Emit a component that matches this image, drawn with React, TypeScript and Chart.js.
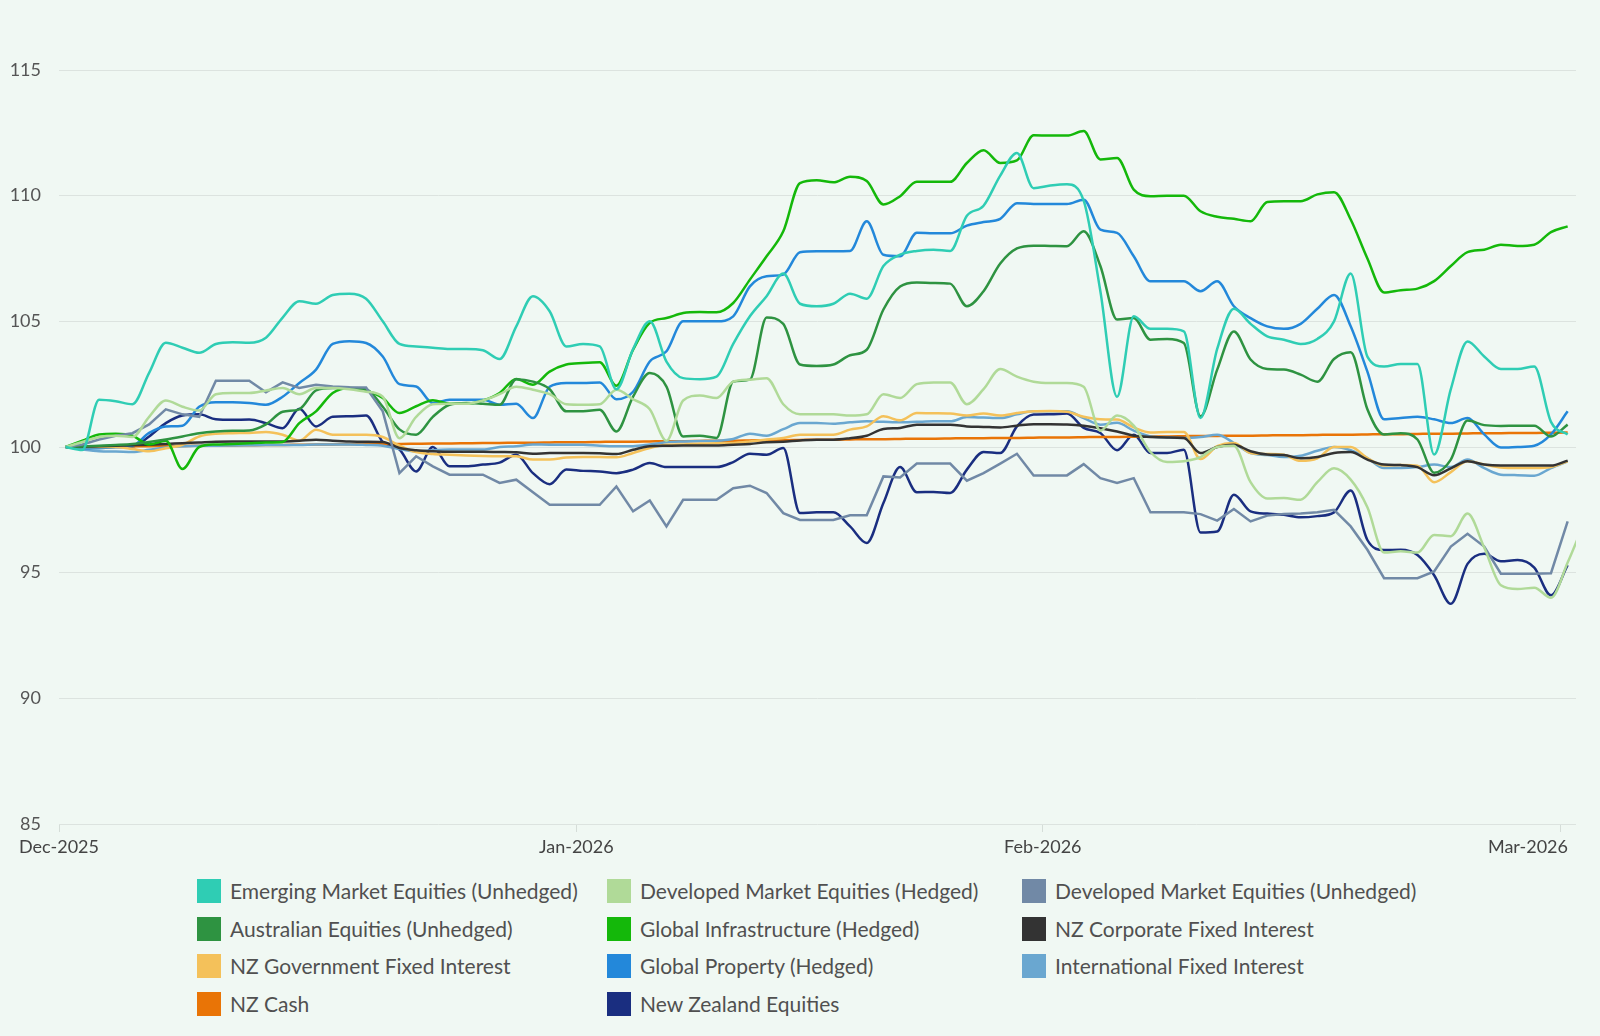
import React, { useEffect, useRef } from 'react';
import { Chart, registerables } from 'chart.js';

Chart.register(...registerables);

const BG = '#F0F8F3';

// x-axis tick positions (in data-index units) and their labels
const tickPositions = [-0.4, 30.6, 58.55, 89.55];
const tickLabels = ['Dec-2025', 'Jan-2026', 'Feb-2026', 'Mar-2026'];

const yMin = 85;
const yMax = 115;
const yStep = 5;

const seriesNames = [
  'Emerging Market Equities (Unhedged)',
  'Developed Market Equities (Hedged)',
  'Developed Market Equities (Unhedged)',
  'Australian Equities (Unhedged)',
  'Global Infrastructure (Hedged)',
  'NZ Corporate Fixed Interest',
  'NZ Government Fixed Interest',
  'Global Property (Hedged)',
  'International Fixed Interest',
  'NZ Cash',
  'New Zealand Equities',
];

const seriesColors = [
  '#2FCDB4',
  '#B0DA98',
  '#7189A6',
  '#2E9341',
  '#14B80A',
  '#333333',
  '#F4C15A',
  '#2388DA',
  '#6AA7D0',
  '#E97406',
  '#1A2E80',
];

const emergingUnhedged = [
  100, 99.88, 101.88, 101.82, 101.7, 102.95, 104.15, 103.95, 103.75, 104.1,
  104.17, 104.15, 104.35, 105.15, 105.8, 105.7, 106.05, 106.1, 105.9, 105.0,
  104.1, 104.0, 103.95, 103.9, 103.9, 103.85, 103.5, 104.8, 106.0, 105.4,
  104.0, 104.1, 104.0, 102.3, 103.9, 105.0, 103.4, 102.74, 102.7, 102.8,
  104.1, 105.2, 106.0, 106.9, 105.7, 105.6, 105.7, 106.1, 105.9, 107.2,
  107.65, 107.8, 107.85, 107.8, 109.2, 109.6, 110.8, 111.7, 110.3, 110.4,
  110.45, 109.8, 106.2, 102.0, 105.2, 104.7, 104.7, 104.6, 101.15, 103.9,
  105.5, 104.9, 104.4, 104.27, 104.1, 104.3, 105.0, 106.9, 103.6, 103.2,
  103.3, 103.3, 99.7, 102.3, 104.2, 103.6, 103.1, 103.1, 103.2, 101.0,
  100.5,
];

const developedHedged = [
  100, 100.2, 100.4, 100.45, 100.4, 101.2, 101.85, 101.6, 101.45, 102.1,
  102.15, 102.15, 102.25, 102.35, 102.1, 102.35, 102.35, 102.3, 102.2, 102.0,
  100.35, 101.2, 101.7, 101.72, 101.72, 101.85, 102.1, 102.4, 102.28, 102.1,
  101.7, 101.68, 101.7, 102.28, 101.9, 101.5, 100.25, 101.85, 102.05, 101.95,
  102.6, 102.68, 102.74, 101.7, 101.3, 101.3, 101.3, 101.25, 101.3, 102.1,
  101.95, 102.5, 102.57, 102.57, 101.7, 102.3, 103.1, 102.8, 102.6, 102.55,
  102.55, 102.4, 100.65, 101.25, 100.85, 99.8, 99.4, 99.43, 99.6, 100.0,
  100.05, 98.6, 97.95, 97.97, 97.9, 98.6, 99.15, 98.7, 97.6, 95.8,
  95.85, 95.8, 96.5, 96.45, 97.35, 96.0, 94.5, 94.35, 94.4, 94.0,
  95.4, 97.0,
];

const developedUnhedged = [
  100, 100.1, 100.3, 100.45, 100.55, 100.9, 101.5, 101.3, 101.2, 102.64,
  102.64, 102.64, 102.18, 102.57, 102.35, 102.48, 102.41, 102.38, 102.37, 101.42,
  98.96, 99.63, 99.23, 98.9, 98.9, 98.9, 98.57, 98.7, 98.2, 97.7,
  97.7, 97.7, 97.7, 98.43, 97.44, 97.87, 96.84, 97.9, 97.9, 97.9,
  98.36, 98.46, 98.17, 97.37, 97.1, 97.1, 97.1, 97.28, 97.28, 98.83,
  98.79, 99.34, 99.34, 99.34, 98.66, 98.96, 99.34, 99.73, 98.87, 98.87,
  98.87, 99.32, 98.76, 98.57, 98.76, 97.4, 97.4, 97.4, 97.33, 97.07,
  97.53, 97.04, 97.27, 97.33, 97.35, 97.4, 97.5, 96.84, 95.91, 94.78,
  94.78, 94.78, 95.05, 96.04, 96.55, 96.04, 94.96, 94.96, 94.96, 94.98,
  97.04,
];

const australianUnhedged = [
  100, 100.02, 100.05, 100.08, 100.12, 100.2, 100.3, 100.42, 100.55, 100.62,
  100.65, 100.66, 100.9, 101.4, 101.5, 102.25, 102.35, 102.35, 102.3, 101.6,
  100.7, 100.49, 101.2, 101.68, 101.75, 101.72, 101.68, 102.7, 102.6, 102.3,
  101.42, 101.42, 101.48, 100.62, 102.0, 102.94, 102.4, 100.42, 100.45, 100.36,
  102.6, 102.68, 105.15, 104.9, 103.28, 103.22, 103.28, 103.65, 103.87, 105.47,
  106.39, 106.55, 106.53, 106.5, 105.6, 106.2, 107.3, 107.9, 108.01, 108.0,
  107.99, 108.58, 107.2, 105.07, 105.13, 104.27, 104.3, 104.14, 101.22, 103.08,
  104.6, 103.48, 103.1, 103.08, 102.88, 102.6, 103.5, 103.77, 101.5, 100.5,
  100.55, 100.3, 98.98, 99.5, 101.05, 100.87, 100.84, 100.85, 100.85, 100.42,
  100.89,
];

const globalInfrastructure = [
  100, 100.25, 100.5, 100.53, 100.45, 100.1, 100.25, 99.12, 100.0, 100.1,
  100.12, 100.15, 100.18, 100.2, 100.95, 101.42, 102.15, 102.35, 102.25, 101.95,
  101.35, 101.62, 101.86, 101.72, 101.72, 101.85, 102.15, 102.71, 102.48, 103.0,
  103.28, 103.34, 103.37, 102.44, 103.87, 104.94, 105.13, 105.33, 105.37, 105.36,
  105.73, 106.66, 107.59, 108.58, 110.5, 110.61, 110.53, 110.75, 110.58, 109.65,
  109.98, 110.55, 110.55, 110.55, 111.3, 111.81, 111.3, 111.4, 112.4, 112.39,
  112.39, 112.57, 111.44, 111.5, 110.24, 109.98, 110.0, 110.0, 109.38, 109.16,
  109.08, 108.98, 109.75, 109.78, 109.78, 110.05, 110.14, 109.05, 107.5, 106.15,
  106.24, 106.3, 106.6, 107.2, 107.75, 107.85, 108.05, 108.0, 108.05, 108.55,
  108.78,
];

const nzCorporateFixed = [
  100, 100.01, 100.03, 100.05, 100.07, 100.09, 100.12, 100.15, 100.18, 100.21,
  100.22, 100.22, 100.22, 100.22, 100.25, 100.29, 100.25, 100.22, 100.21, 100.2,
  99.96, 99.87, 99.83, 99.81, 99.81, 99.81, 99.8, 99.79, 99.73, 99.76,
  99.76, 99.76, 99.75, 99.72, 99.89, 100.03, 100.05, 100.06, 100.06, 100.06,
  100.09, 100.12, 100.19, 100.21, 100.26, 100.29, 100.29, 100.35, 100.45, 100.72,
  100.76, 100.89, 100.89, 100.89, 100.82, 100.8, 100.78, 100.85, 100.91, 100.91,
  100.9, 100.85, 100.75, 100.62, 100.45, 100.4, 100.38, 100.36, 99.76, 100.0,
  100.09, 99.83, 99.7, 99.68, 99.55, 99.6, 99.76, 99.8, 99.5, 99.3,
  99.28, 99.2, 98.88, 99.15, 99.43, 99.3, 99.26, 99.26, 99.26, 99.26,
  99.46,
];

const nzGovernmentFixed = [
  100, 100.0, 100.0, 100.0, 99.92, 99.83, 99.95, 100.09, 100.42, 100.53,
  100.55, 100.56, 100.6, 100.49, 100.25, 100.69, 100.49, 100.49, 100.49, 100.4,
  100.05, 99.8, 99.72, 99.69, 99.66, 99.64, 99.63, 99.63, 99.5, 99.5,
  99.58, 99.6, 99.6, 99.59, 99.76, 99.96, 100.09, 100.1, 100.13, 100.15,
  100.16, 100.22, 100.3, 100.36, 100.49, 100.49, 100.49, 100.69, 100.82, 101.22,
  101.06, 101.35, 101.34, 101.33, 101.25, 101.33, 101.25, 101.35, 101.42, 101.43,
  101.4, 101.2, 101.1, 101.09, 100.78, 100.58, 100.6, 100.6, 99.52, 100.03,
  100.16, 99.76, 99.72, 99.69, 99.45, 99.55, 100.0, 100.0, 99.56, 99.26,
  99.28, 99.25, 98.6, 99.0, 99.43, 99.3, 99.18, 99.16, 99.16, 99.2,
  99.43,
];

const globalProperty = [
  100, 99.95, 99.95, 100.0, 100.05, 100.56, 100.82, 100.85, 101.6, 101.78,
  101.78, 101.75, 101.68, 102.0, 102.55, 103.08, 104.1, 104.21, 104.14, 103.6,
  102.5, 102.41, 101.75, 101.88, 101.88, 101.88, 101.68, 101.72, 101.15, 102.4,
  102.55, 102.55, 102.57, 101.9, 102.2, 103.4, 103.81, 105.0, 105.0, 105.0,
  105.2, 106.39, 106.79, 106.86, 107.75, 107.79, 107.79, 107.8, 108.98, 107.65,
  107.59, 108.52, 108.5, 108.5, 108.81, 108.95, 109.08, 109.7, 109.67, 109.67,
  109.67, 109.84, 108.65, 108.52, 107.59, 106.59, 106.59, 106.59, 106.2, 106.59,
  105.6, 105.13, 104.8, 104.7, 104.9, 105.5, 106.05, 104.8, 103.0, 101.1,
  101.15, 101.2, 101.1, 100.95, 101.15, 100.5, 99.98, 100.0, 100.05, 100.5,
  101.42,
];

const internationalFixed = [
  100, 99.9, 99.83, 99.82, 99.8, 99.89, 99.98, 100.03, 100.05, 100.05,
  100.06, 100.07, 100.08, 100.08, 100.08, 100.1, 100.1, 100.1, 100.08, 100.05,
  99.92, 99.83, 99.87, 99.9, 99.9, 99.9, 100.0, 100.03, 100.1, 100.09,
  100.09, 100.09, 100.05, 100.03, 100.03, 100.1, 100.19, 100.22, 100.24, 100.25,
  100.32, 100.53, 100.45, 100.71, 100.95, 100.95, 100.93, 100.98, 101.02, 101.0,
  100.98, 101.0, 101.02, 101.02, 101.19, 101.17, 101.15, 101.3, 101.42, 101.42,
  101.42, 101.15, 100.89, 100.96, 100.65, 100.42, 100.38, 100.36, 100.4, 100.49,
  100.16, 99.76, 99.68, 99.6, 99.65, 99.85, 100.0, 99.87, 99.56, 99.16,
  99.16, 99.2, 99.3, 99.2, 99.5, 99.16, 98.9, 98.88, 98.86, 99.16,
  99.43,
];

const nzCash = [
  100.0, 100.01, 100.01, 100.02, 100.03, 100.03, 100.04, 100.04, 100.05, 100.06,
  100.06, 100.07, 100.08, 100.08, 100.09, 100.1, 100.1, 100.11, 100.11, 100.12,
  100.12, 100.13, 100.14, 100.14, 100.15, 100.16, 100.16, 100.17, 100.17, 100.18,
  100.19, 100.19, 100.2, 100.21, 100.21, 100.22, 100.23, 100.23, 100.24, 100.25,
  100.25, 100.26, 100.27, 100.27, 100.28, 100.29, 100.29, 100.3, 100.31, 100.31,
  100.32, 100.33, 100.33, 100.34, 100.35, 100.35, 100.36, 100.36, 100.37, 100.38,
  100.38, 100.39, 100.4, 100.4, 100.41, 100.42, 100.42, 100.43, 100.44, 100.44,
  100.45, 100.45, 100.46, 100.47, 100.47, 100.48, 100.49, 100.49, 100.5, 100.51,
  100.51, 100.52, 100.53, 100.53, 100.54, 100.55, 100.55, 100.56, 100.56, 100.57,
  100.58,
];

const nzEquities = [
  100, 99.98, 99.98, 100.0, 100.02, 100.42, 100.95, 101.25, 101.3, 101.1,
  101.08, 101.09, 100.95, 100.75, 101.52, 100.82, 101.2, 101.22, 101.25, 100.2,
  99.9, 99.03, 100.0, 99.23, 99.23, 99.3, 99.38, 99.69, 98.96, 98.52,
  99.1, 99.05, 99.03, 98.96, 99.1, 99.36, 99.2, 99.2, 99.2, 99.2,
  99.4, 99.73, 99.69, 99.96, 97.37, 97.4, 97.4, 96.84, 96.18, 97.77,
  99.2, 98.2, 98.21, 98.17, 99.1, 99.8, 99.76, 100.82, 101.29, 101.3,
  101.33, 100.76, 100.56, 99.87, 100.49, 99.76, 99.76, 99.89, 96.6, 96.64,
  98.1, 97.44, 97.35, 97.3, 97.2, 97.25, 97.4, 98.27, 96.3, 95.9,
  95.91, 95.7, 94.9, 93.76, 95.35, 95.75, 95.45, 95.5, 95.2, 94.1,
  95.3,
];

const seriesValues = [
  emergingUnhedged,
  developedHedged,
  developedUnhedged,
  australianUnhedged,
  globalInfrastructure,
  nzCorporateFixed,
  nzGovernmentFixed,
  globalProperty,
  internationalFixed,
  nzCash,
  nzEquities,
];

// series drawn with straight segments
const straightSeries = ['Developed Market Equities (Unhedged)'];

const FONT = 'Lato, "Noto Sans", sans-serif';

const xLabelPlugin = {
  id: 'xMonthLabels',
  afterDraw(chart: any) {
    const { ctx, chartArea, scales } = chart;
    const x = scales.x;
    ctx.save();
    ctx.font = `18px ${FONT}`;
    ctx.fillStyle = '#444444';
    ctx.textAlign = 'center';
    ctx.textBaseline = 'middle';
    tickPositions.forEach((v, k) => {
      const label = tickLabels[k];
      const w = ctx.measureText(label).width;
      let px = x.getPixelForValue(v);
      px = Math.min(px, chartArea.right - 8 - w / 2);
      ctx.fillText(label, px, chartArea.bottom + 23);
    });
    ctx.restore();
  },
};

const legendColX = [197, 607, 1022];
const legendRowY = [879, 916.5, 954, 991.5];

export default function App() {
  const canvasRef = useRef<HTMLCanvasElement | null>(null);

  useEffect(() => {
    document.body.style.margin = '0';
    document.body.style.background = BG;
    const canvas = canvasRef.current;
    if (!canvas) return;
    const chart = new Chart(canvas, {
      type: 'line',
      data: {
        datasets: seriesNames.map((name, k) => ({
          label: name,
          data: seriesValues[k].map((y, i) => ({ x: i, y })),
          borderColor: seriesColors[k],
          backgroundColor: seriesColors[k],
          borderWidth: 2.5,
          pointRadius: 0,
          pointHoverRadius: 0,
          fill: false,
          tension: 0,
          cubicInterpolationMode: straightSeries.includes(name) ? 'default' : 'monotone',
        })) as any,
      },
      options: {
        animation: false,
        responsive: false,
        maintainAspectRatio: false,
        events: [],
        layout: { padding: { top: 70, right: 24, left: 0, bottom: 0 } },
        plugins: {
          legend: { display: false },
          tooltip: { enabled: false },
        },
        scales: {
          x: {
            type: 'linear',
            min: -0.4,
            max: 90.5,
            afterBuildTicks: (scale: any) => {
              scale.ticks = tickPositions.map((v) => ({ value: v }));
            },
            afterFit: (scale: any) => {
              scale.height = 46;
            },
            ticks: { display: false },
            grid: {
              display: true,
              drawOnChartArea: false,
              drawTicks: true,
              tickLength: 8,
              color: '#D5DDD8',
              lineWidth: 1,
            },
            border: { display: false },
          },
          y: {
            type: 'linear',
            min: yMin,
            max: yMax,
            afterFit: (scale: any) => {
              scale.width = 59;
            },
            ticks: {
              stepSize: yStep,
              padding: 18,
              color: '#555555',
              font: { family: FONT, size: 18 },
            },
            grid: {
              color: '#DCE3DF',
              lineWidth: 1,
              drawTicks: false,
            },
            border: { display: false },
          },
        },
      },
      plugins: [xLabelPlugin],
    });
    return () => chart.destroy();
  }, []);

  return (
    <div
      style={{
        position: 'relative',
        width: 1600,
        height: 1036,
        background: BG,
        overflow: 'hidden',
        fontFamily: FONT,
      }}
    >
      <canvas
        ref={canvasRef}
        width={1600}
        height={870}
        style={{ position: 'absolute', left: 0, top: 0, width: 1600, height: 870 }}
      />
      {seriesNames.map((name, k) => {
        const col = k % 3;
        const row = Math.floor(k / 3);
        return (
          <div
            key={name}
            style={{
              position: 'absolute',
              left: legendColX[col],
              top: legendRowY[row],
              height: 24,
              display: 'flex',
              alignItems: 'center',
              whiteSpace: 'nowrap',
            }}
          >
            <span
              style={{
                display: 'inline-block',
                width: 24,
                height: 24,
                background: seriesColors[k],
                marginRight: 9,
              }}
            />
            <span style={{ fontSize: 21, color: '#505050', lineHeight: '24px' }}>{name}</span>
          </div>
        );
      })}
    </div>
  );
}
